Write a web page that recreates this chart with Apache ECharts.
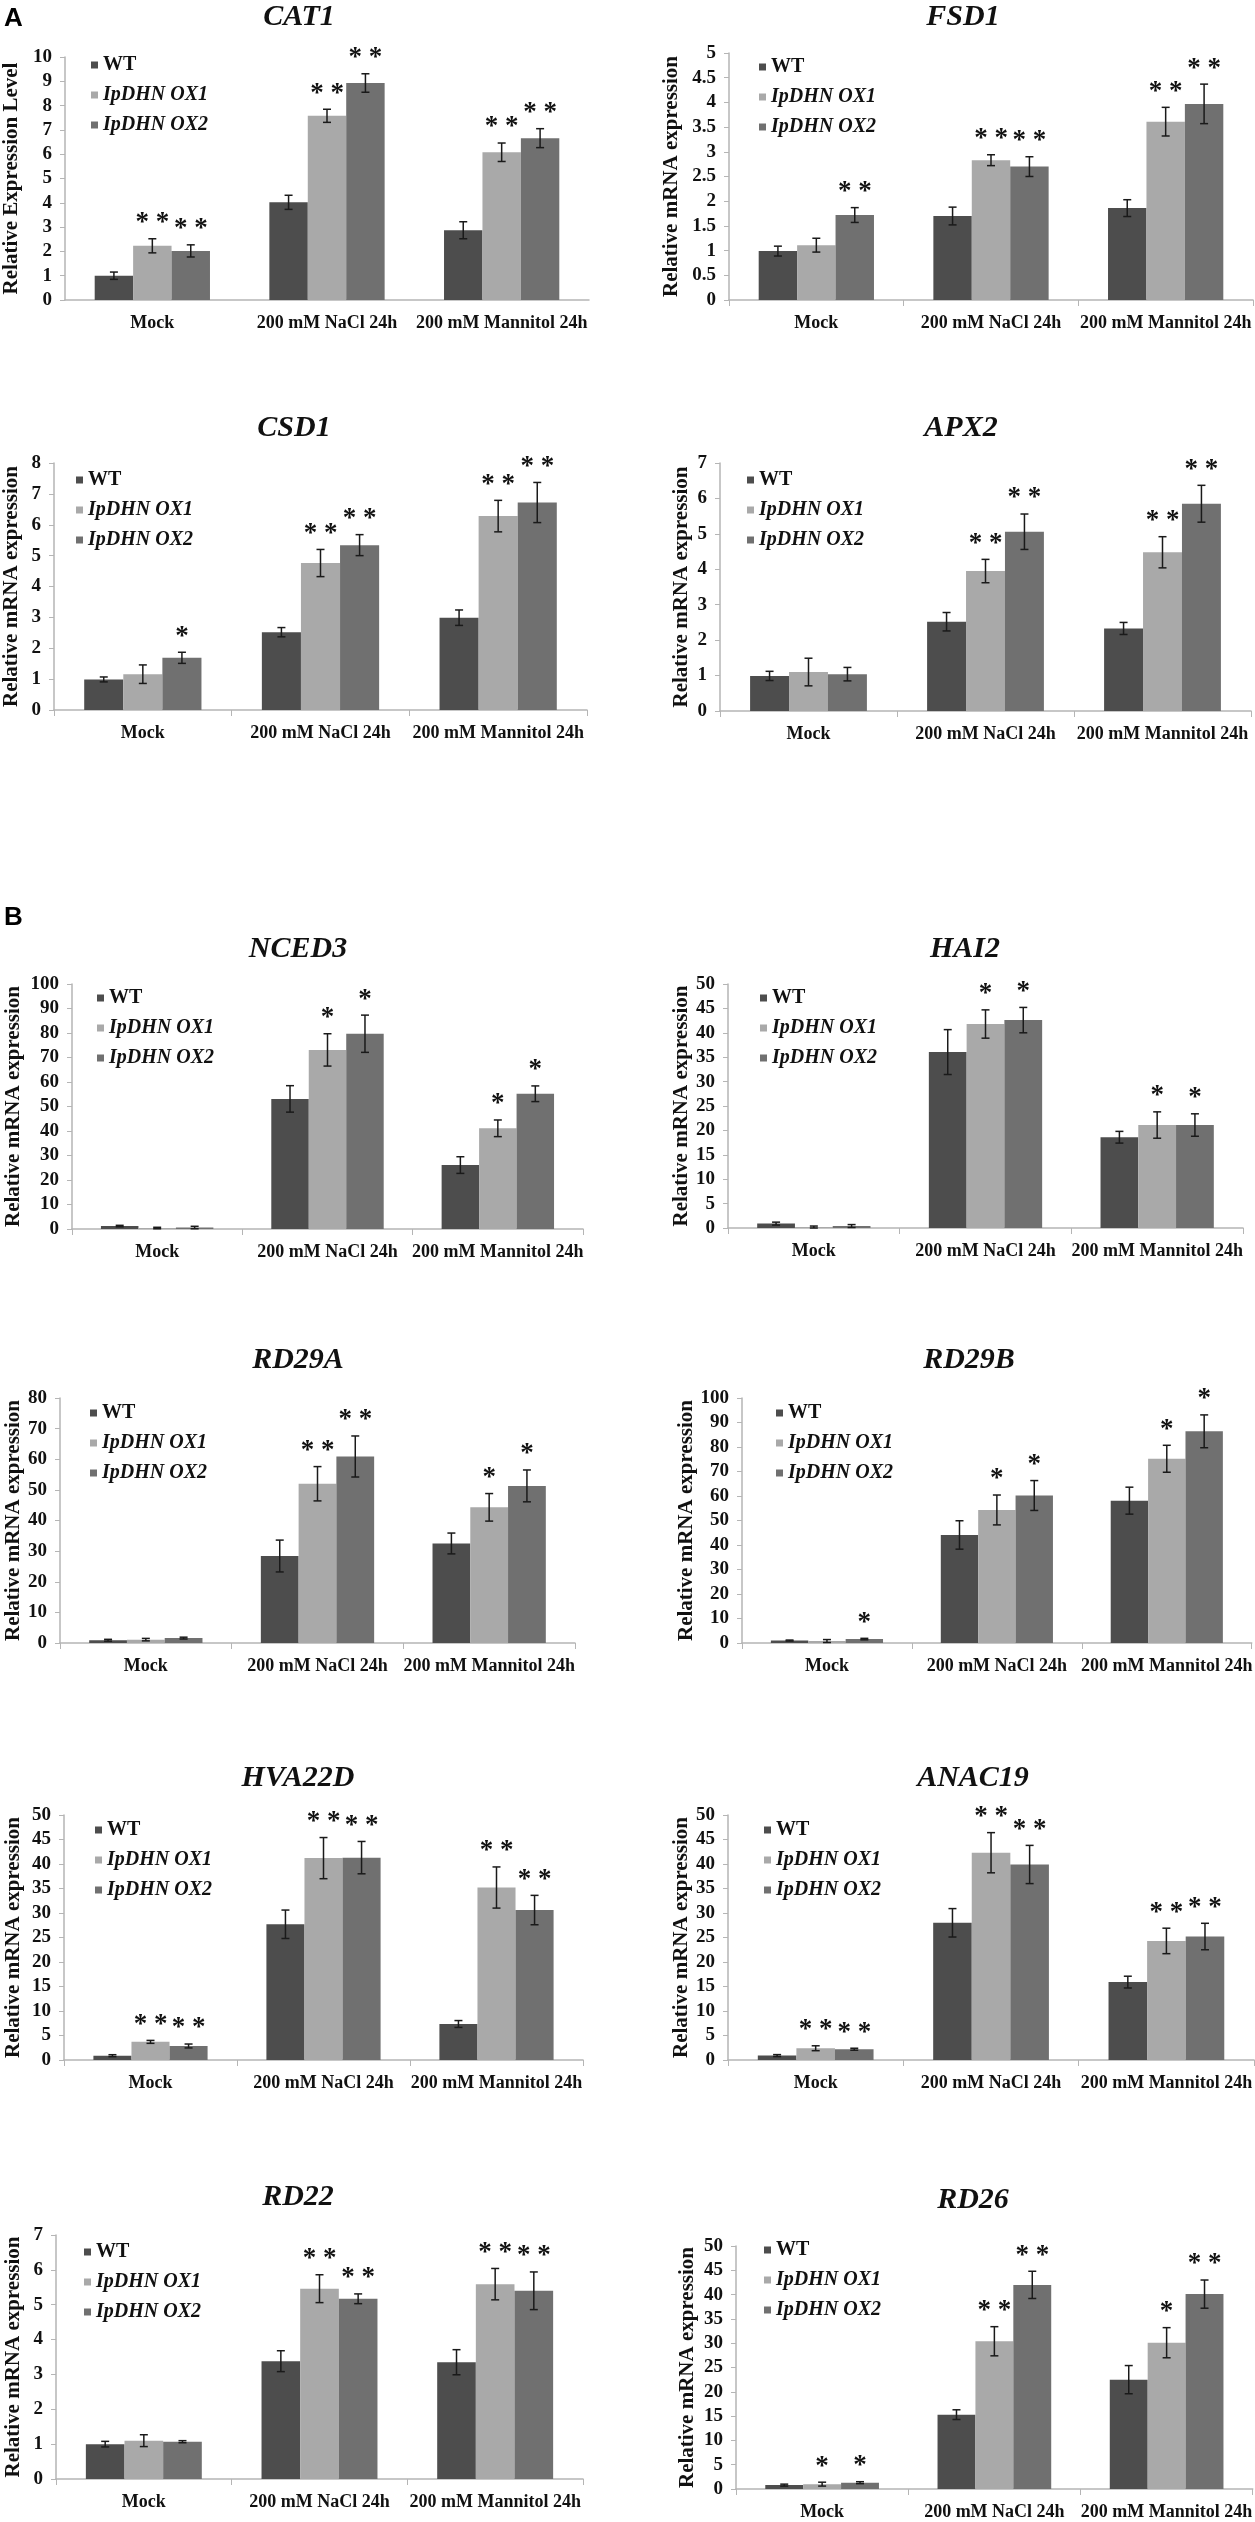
<!DOCTYPE html>
<html><head><meta charset="utf-8">
<script src="https://cdn.jsdelivr.net/npm/echarts@6/dist/echarts.min.js"></script>
<style>html,body{margin:0;padding:0;background:#fff}#c{width:1255px;height:2522px}</style>
</head><body><div id="c"></div>
<script>
// ---------------- DATA ----------------
const categories = ['Mock', '200 mM NaCl 24h', '200 mM Mannitol 24h'];
const seriesNames = ['WT', 'IpDHN OX1', 'IpDHN OX2'];
const genes = ['CAT1','FSD1','CSD1','APX2','NCED3','HAI2','RD29A','RD29B','HVA22D','ANAC19','RD22','RD26'];
const yMax  = [10, 5, 8, 7, 100, 50, 80, 100, 50, 50, 7, 50];
const yStep = [1, 0.5, 1, 1, 10, 5, 10, 10, 5, 5, 1, 5];
const yTitles = ['Relative Expression Level','Relative mRNA expression','Relative mRNA expression','Relative mRNA expression',
  'Relative mRNA expression','Relative mRNA expression','Relative mRNA expression','Relative mRNA expression',
  'Relative mRNA expression','Relative mRNA expression','Relative mRNA expression','Relative mRNA expression'];

// rows: WT, OX1, OX2 ; columns: Mock, NaCl, Mannitol
const CAT1_mean = [[1.0, 4.02, 2.87], [2.23, 7.58, 6.08], [2.02, 8.93, 6.66]];
const CAT1_err  = [[0.15, 0.29, 0.35], [0.29, 0.27, 0.38], [0.25, 0.38, 0.39]];
const CAT1_star = [['', '', ''], ['**', '**', '**'], ['**', '**', '**']];

const FSD1_mean = [[0.99, 1.70, 1.86], [1.11, 2.83, 3.61], [1.72, 2.70, 3.97]];
const FSD1_err  = [[0.10, 0.18, 0.17], [0.14, 0.11, 0.29], [0.15, 0.20, 0.40]];
const FSD1_star = [['', '', ''], ['', '**', '**'], ['**', '**', '**']];

const CSD1_mean = [[0.99, 2.52, 2.99], [1.16, 4.76, 6.28], [1.69, 5.34, 6.72]];
const CSD1_err  = [[0.08, 0.15, 0.25], [0.30, 0.44, 0.51], [0.18, 0.34, 0.65]];
const CSD1_star = [['', '', ''], ['', '**', '**'], ['*', '**', '**']];

const APX2_mean = [[0.99, 2.52, 2.33], [1.10, 3.95, 4.48], [1.04, 5.06, 5.85]];
const APX2_err  = [[0.13, 0.26, 0.17], [0.39, 0.33, 0.44], [0.19, 0.50, 0.52]];
const APX2_star = [['', '', ''], ['', '**', '**'], ['', '**', '**']];

const NCED3_mean = [[1.2, 53.1, 26.1], [0.4, 73.1, 41.1], [0.6, 79.7, 55.2]];
const NCED3_err  = [[0.3, 5.4, 3.4], [0.3, 6.6, 3.4], [0.5, 7.6, 3.2]];
const NCED3_star = [['', '', ''], ['', '*', '*'], ['', '*', '*']];

const HAI2_mean = [[0.9, 36.05, 18.6], [0.2, 41.8, 21.1], [0.4, 42.6, 21.1]];
const HAI2_err  = [[0.3, 4.6, 1.2], [0.2, 2.9, 2.7], [0.3, 2.6, 2.3]];
const HAI2_star = [['', '', ''], ['', '*', '*'], ['', '*', '*']];

const RD29A_mean = [[0.9, 28.4, 32.5], [1.1, 52.0, 44.3], [1.6, 60.9, 51.3]];
const RD29A_err  = [[0.3, 5.2, 3.4], [0.4, 5.6, 4.5], [0.3, 6.7, 5.2]];
const RD29A_star = [['', '', ''], ['', '**', '*'], ['', '**', '*']];

const RD29B_mean = [[1.0, 44.1, 58.1], [0.8, 54.3, 75.2], [1.6, 60.2, 86.4]];
const RD29B_err  = [[0.2, 5.8, 5.5], [0.6, 6.1, 5.5], [0.3, 6.1, 6.7]];
const RD29B_star = [['', '', ''], ['', '*', '*'], ['*', '*', '*']];

const HVA22D_mean = [[0.88, 27.7, 7.35], [3.7, 41.2, 35.2], [2.86, 41.3, 30.6]];
const HVA22D_err  = [[0.2, 2.9, 0.7], [0.3, 4.2, 4.2], [0.4, 3.3, 3.0]];
const HVA22D_star = [['', '', ''], ['**', '**', '**'], ['**', '**', '**']];

const ANAC19_mean = [[0.9, 28.0, 15.9], [2.4, 42.3, 24.3], [2.2, 39.9, 25.2]];
const ANAC19_err  = [[0.2, 2.9, 1.2], [0.5, 4.1, 2.6], [0.2, 3.9, 2.7]];
const ANAC19_star = [['', '', ''], ['**', '**', '**'], ['**', '**', '**']];

const RD22_mean = [[1.0, 3.38, 3.35], [1.1, 5.46, 5.59], [1.07, 5.17, 5.40]];
const RD22_err  = [[0.08, 0.30, 0.36], [0.17, 0.40, 0.45], [0.03, 0.14, 0.54]];
const RD22_star = [['', '', ''], ['', '**', '**'], ['', '**', '**']];

const RD26_mean = [[0.8, 15.3, 22.5], [1.0, 30.4, 30.1], [1.3, 42.0, 40.1]];
const RD26_err  = [[0.2, 1.0, 2.9], [0.4, 3.0, 3.1], [0.2, 2.8, 2.9]];
const RD26_star = [['', '', ''], ['*', '**', '*'], ['*', '**', '**']];

const means = [CAT1_mean, FSD1_mean, CSD1_mean, APX2_mean, NCED3_mean, HAI2_mean, RD29A_mean, RD29B_mean, HVA22D_mean, ANAC19_mean, RD22_mean, RD26_mean];
const errs  = [CAT1_err, FSD1_err, CSD1_err, APX2_err, NCED3_err, HAI2_err, RD29A_err, RD29B_err, HVA22D_err, ANAC19_err, RD22_err, RD26_err];
const stars = [CAT1_star, FSD1_star, CSD1_star, APX2_star, NCED3_star, HAI2_star, RD29A_star, RD29B_star, HVA22D_star, ANAC19_star, RD22_star, RD26_star];

// ---------------- LAYOUT / STYLE ----------------
// [gridLeft, gridTop, gridWidth, gridHeight, titleX, titleY, legendX, legendY, nameGap]
const layout = [
  [61, 57, 528, 243, 299, 17, 91, 65, 43],
  [729, 53, 524, 247, 963, 17, 759, 67, 47],
  [52, 463, 535, 247, 294, 428, 76, 480, 32],
  [720, 463, 531, 248, 961, 428, 747, 480, 28],
  [72, 984, 511, 245, 298, 949, 97, 998, 48],
  [728, 984, 515, 244, 965, 949, 760, 998, 35],
  [60, 1398, 515, 245, 298, 1360, 90, 1413, 36],
  [742, 1398, 513, 245, 969, 1360, 776, 1413, 45],
  [64, 1815, 519, 245, 298, 1778, 95, 1830, 40],
  [728, 1815, 527, 245, 973, 1778, 764, 1830, 31],
  [56, 2235, 527, 244, 298, 2197, 84, 2252, 32],
  [736, 2246, 519, 243, 973, 2200, 764, 2250, 38]
];
const colors = ['#4d4d4d', '#a9a9a9', '#707070'];
const SERIF = '"Liberation Serif", "Times New Roman", serif';
const axisGray = '#b5b5b5';

function makeRender(p, s) {
  const offset = s - 1;
  return function (params, api) {
    const xi = api.value(0), m = api.value(1), e = api.value(2);
    const band = api.size([1, 0])[0];
    const bw = band * 0.66 / 3;
    const c = api.coord([xi, m]);
    const cx = c[0] + offset * bw;
    const yTop = api.coord([xi, m + e])[1];
    const yBot = api.coord([xi, Math.max(0, m - e)])[1];
    const cap = 4;
    const ls = { stroke: '#1a1a1a', lineWidth: 1.5 };
    const children = [
      { type: 'line', shape: { x1: cx, y1: yTop, x2: cx, y2: yBot }, style: ls },
      { type: 'line', shape: { x1: cx - cap, y1: yTop, x2: cx + cap, y2: yTop }, style: ls },
      { type: 'line', shape: { x1: cx - cap, y1: yBot, x2: cx + cap, y2: yBot }, style: ls }
    ];
    const st = stars[p][s][params.dataIndex];
    if (st) {
      children.push({
        type: 'text', x: cx, y: yTop - 2,
        style: { text: st.split('').join(' '), fill: '#111', font: 'bold 27px ' + SERIF,
          align: 'center', verticalAlign: 'bottom', textAlign: 'center', textVerticalAlign: 'bottom' }
      });
    }
    return { type: 'group', children };
  };
}

const grid = [], xAxis = [], yAxis = [], series = [], title = [], legend = [];
layout.forEach((L, p) => {
  grid.push({ left: L[0], top: L[1], width: L[2], height: L[3], containLabel: false });
  xAxis.push({
    type: 'category', gridIndex: p, data: categories,
    axisLine: { lineStyle: { color: axisGray, width: 1.5 } },
    axisTick: { show: p !== 0, length: 6, lineStyle: { color: axisGray } },
    axisLabel: { interval: 0, margin: 14, color: '#111', fontFamily: SERIF, fontWeight: 'bold', fontSize: 18 }
  });
  yAxis.push({
    type: 'value', gridIndex: p, min: 0, max: yMax[p], interval: yStep[p],
    axisLine: { show: true, lineStyle: { color: axisGray, width: 1.5 } },
    axisTick: { show: true, length: 5, lineStyle: { color: axisGray } },
    splitLine: { show: false },
    axisLabel: { margin: 13, color: '#111', fontFamily: SERIF, fontWeight: 'bold', fontSize: 19 },
    name: yTitles[p], nameLocation: 'middle', nameGap: L[8],
    nameTextStyle: { color: '#111', fontFamily: SERIF, fontWeight: 'bold', fontSize: 21 }
  });
  title.push({
    text: genes[p], left: L[4], top: L[5] - 15, textAlign: 'center', padding: 0,
    textStyle: { color: '#111', fontFamily: SERIF, fontStyle: 'italic', fontWeight: 'bold', fontSize: 30 }
  });
  legend.push({
    orient: 'vertical', left: L[6], top: L[7] - 10, padding: 0,
    itemWidth: 7, itemHeight: 7, itemGap: 10, icon: 'rect', selectedMode: false,
    data: seriesNames,
    formatter: n => (n === 'WT' ? '{n|' + n + '}' : '{i|' + n + '}'),
    textStyle: {
      color: '#111', fontFamily: SERIF, fontWeight: 'bold', fontSize: 20, lineHeight: 20,
      rich: {
        n: { color: '#111', fontFamily: SERIF, fontWeight: 'bold', fontSize: 20, fontStyle: 'normal' },
        i: { color: '#111', fontFamily: SERIF, fontWeight: 'bold', fontSize: 20, fontStyle: 'italic' }
      }
    }
  });
  seriesNames.forEach((name, s) => {
    series.push({
      type: 'bar', name, xAxisIndex: p, yAxisIndex: p,
      data: means[p][s], barGap: '0%', barCategoryGap: '34%',
      itemStyle: { color: colors[s] }, silent: true
    });
  });
  seriesNames.forEach((name, s) => {
    series.push({
      type: 'custom', name: 'err_' + p + '_' + s, xAxisIndex: p, yAxisIndex: p, z: 5, silent: true,
      data: means[p][s].map((v, i) => [i, v, errs[p][s][i]]),
      renderItem: makeRender(p, s)
    });
  });
});

const chart = echarts.init(document.getElementById('c'), null, { renderer: 'canvas' });
chart.setOption({
  backgroundColor: '#fff',
  animation: false,
  title, legend, grid, xAxis, yAxis, series,
  graphic: [
    { type: 'text', left: 4, top: 6, style: { text: 'A', font: 'bold 26px "Liberation Sans", Arial, sans-serif', fill: '#000' } },
    { type: 'text', left: 4, top: 905, style: { text: 'B', font: 'bold 26px "Liberation Sans", Arial, sans-serif', fill: '#000' } }
  ]
});
</script>
</body></html>
